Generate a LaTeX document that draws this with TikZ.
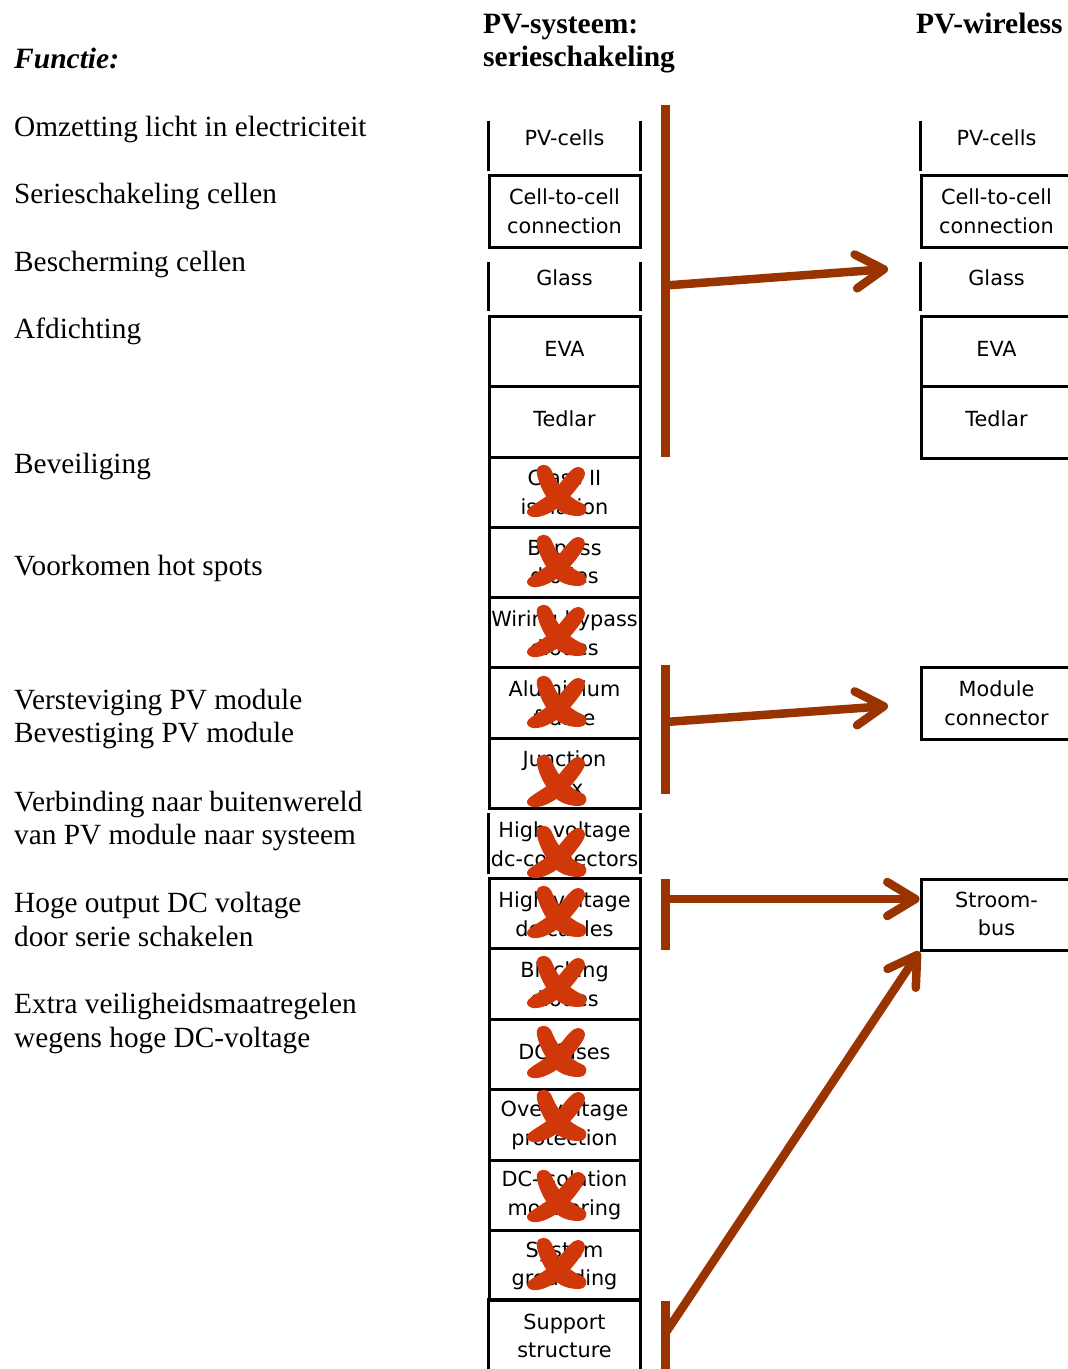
\documentclass[tikz,border=0pt]{standalone}
\usepackage{fontspec}
\setmainfont{Liberation Serif}
\newfontfamily\boxfont{DejaVu Sans}
\usetikzlibrary{arrows.meta}
\definecolor{brn}{RGB}{153,51,0}
\definecolor{xred}{RGB}{208,56,10}
\tikzset{
 xmark/.pic={
  \filldraw[xred,line width=4pt,line join=round] (-17,-24) .. controls (-12,-27) and (-8,-24) .. (-6,-18)
     .. controls (-1,-6) and (8,6) .. (26,14)
     .. controls (29,17) and (27,22) .. (22,22)
     .. controls (12,22) and (4,19) .. (-2,13)
     .. controls (-10,4) and (-16,-8) .. (-18,-18)
     .. controls (-19,-21) and (-18,-23) .. (-17,-24) -- cycle;
  \filldraw[xred,line width=4pt,line join=round] (-27,18) .. controls (-22,13) and (-10,8) .. (0,-2)
     .. controls (7,-10) and (13,-19) .. (18,-22)
     .. controls (24,-25) and (28,-20) .. (25,-15)
     .. controls (20,-6) and (10,6) .. (0,14)
     .. controls (-8,20) and (-18,24) .. (-24,23)
     .. controls (-28,22) and (-29,20) .. (-27,18) -- cycle;
 }
}
\begin{document}
\begin{tikzpicture}[x=1pt,y=-1pt,
 lbl/.style={anchor=base west,inner sep=0pt,font=\fontsize{29.3}{33}\selectfont},
 hdr/.style={anchor=base west,inner sep=0pt,font=\fontsize{29.5}{33}\selectfont\bfseries},
 comp/.style={draw,line width=3pt,minimum width=151pt,inner sep=0pt},
 openbox/.style={draw=none,minimum width=151pt,inner sep=0pt},
 side/.style={line width=3pt},
 ctext/.style={inner sep=0pt,align=center,font=\boxfont\fontsize{20.8}{28.5}\selectfont},
 bar/.style={brn,line width=9pt},
 arr/.style={brn,line width=8.5pt,-{Straight Barb[length=28pt,width=34pt,round]}}
]
\useasboundingbox (0,0) rectangle (1068,1369);

% headers
\node[hdr] (h1a) at (483,33) {PV-systeem:};
\node[hdr] (h1b) at (483,66) {serieschakeling};
\node[hdr] (h2) at (916,33) {PV-wireless};
\node[hdr,font=\fontsize{29.5}{33}\selectfont\bfseries\itshape] (fn) at (14,68) {Functie:};

% left labels
\node[lbl] (l1) at (14,136) {Omzetting licht in electriciteit};
\node[lbl] (l2) at (14,203.5) {Serieschakeling cellen};
\node[lbl] (l3) at (14,271) {Bescherming cellen};
\node[lbl] (l4) at (14,338) {Afdichting};
\node[lbl] (l5) at (14,473) {Beveiliging};
\node[lbl] (l6) at (14,575) {Voorkomen hot spots};
\node[lbl] (l7a) at (14,709) {Versteviging PV module};
\node[lbl] (l7b) at (14,742) {Bevestiging PV module};
\node[lbl] (l8a) at (14,811) {Verbinding naar buitenwereld};
\node[lbl] (l8b) at (14,844) {van PV module naar systeem};
\node[lbl] (l9a) at (14,912) {Hoge output DC voltage};
\node[lbl] (l9b) at (14,946) {door serie schakelen};
\node[lbl] (l10a) at (14,1013) {Extra veiligheidsmaatregelen};
\node[lbl] (l10b) at (14,1047) {wegens hoge DC-voltage};

% left column boxes
\node[openbox,minimum height=50pt] (pv) at (564.5,146) {};
\draw[side] (pv.north west) -- (pv.south west) (pv.north east) -- (pv.south east);
\node[comp,minimum height=72pt] (cc) at (564.5,211) {};
\node[openbox,minimum height=49pt] (gl) at (564.5,286.5) {};
\draw[side] (gl.north west) -- (gl.south west) (gl.north east) -- (gl.south east);
\node[comp,minimum height=70pt] (eva) at (564.5,351) {};
\node[comp,minimum height=71pt] (ted) at (564.5,421.5) {};
\node[comp,minimum height=70pt] (cls) at (564.5,492) {};
\node[comp,minimum height=70pt] (byp) at (564.5,562) {};
\node[comp,minimum height=70pt] (wir) at (564.5,632) {};
\node[comp,minimum height=71pt] (alu) at (564.5,702.5) {};
\node[comp,minimum height=70pt] (jb) at (564.5,773) {};
\node[openbox,minimum height=61pt] (hvc) at (564.5,843.5) {};
\draw[side] (hvc.north west) -- (hvc.south west) (hvc.north east) -- (hvc.south east);
\node[comp,minimum height=70pt] (hvk) at (564.5,913) {};
\node[comp,minimum height=71pt] (bd) at (564.5,983.5) {};
\node[comp,minimum height=70pt] (fu) at (564.5,1054) {};
\node[comp,minimum height=71pt] (ov) at (564.5,1124.5) {};
\node[comp,minimum height=70pt] (iso) at (564.5,1195) {};
\node[comp,minimum height=70pt] (gr) at (564.5,1265) {};
\node[openbox,minimum height=80pt] (sup) at (564.5,1340) {};
\draw[side] (sup.south west) -- (sup.north west) -- (sup.north east) -- (sup.south east);

% left column texts
\node[ctext] (t-pv) at (564.5,138) {PV-cells};
\node[ctext] (t-cc) at (564.5,211) {Cell-to-cell\\connection};
\node[ctext] (t-gl) at (564.5,278) {Glass};
\node[ctext] (t-eva) at (564.5,349) {EVA};
\node[ctext] (t-ted) at (564.5,419) {Tedlar};
\node[ctext] (t-cls) at (564.5,492) {Class II\\isolation};
\node[ctext] (t-byp) at (564.5,562) {Bypass\\diodes};
\node[ctext] (t-wir) at (564.5,633) {Wiring bypass\\diodes};
\node[ctext] (t-alu) at (564.5,703) {Aluminium\\frame};
\node[ctext] (t-jb) at (564.5,773) {Junction\\box};
\node[ctext] (t-hvc) at (564.5,844) {High voltage\\dc-connectors};
\node[ctext] (t-hvk) at (564.5,914) {High voltage\\dc cables};
\node[ctext] (t-bd) at (564.5,984) {Blocking\\diodes};
\node[ctext] (t-fu) at (564.5,1052) {DC fuses};
\node[ctext] (t-ov) at (564.5,1125) {Overvoltage\\protection};
\node[ctext] (t-iso) at (564.5,1195) {DC-isolation\\monitoring};
\node[ctext] (t-gr) at (564.5,1266) {System\\grounding};
\node[ctext] (t-sup) at (564.5,1336) {Support\\structure};

% crosses
\foreach \yy in {492,562,632,703,782,853,913,983,1053,1117,1197,1265}
  \pic at (557,\yy) {xmark};

% right column boxes
\node[openbox,minimum height=50pt] (rpv) at (996.5,146) {};
\draw[side] (rpv.north west) -- (rpv.south west) (rpv.north east) -- (rpv.south east);
\node[comp,minimum height=72pt] (rcc) at (996.5,211) {};
\node[openbox,minimum height=49pt] (rgl) at (996.5,286.5) {};
\draw[side] (rgl.north west) -- (rgl.south west) (rgl.north east) -- (rgl.south east);
\node[comp,minimum height=70pt] (reva) at (996.5,351) {};
\node[comp,minimum height=72pt] (rted) at (996.5,422) {};
\node[comp,minimum height=72pt] (mod) at (996.5,703) {};
\node[comp,minimum height=71pt] (sb) at (996.5,914.5) {};

\node[ctext] (rt-pv) at (996.5,138) {PV-cells};
\node[ctext] (rt-cc) at (996.5,211) {Cell-to-cell\\connection};
\node[ctext] (rt-gl) at (996.5,278) {Glass};
\node[ctext] (rt-eva) at (996.5,349) {EVA};
\node[ctext] (rt-ted) at (996.5,419) {Tedlar};
\node[ctext] (rt-mod) at (996.5,703) {Module\\connector};
\node[ctext] (rt-sb) at (996.5,914) {Stroom-\\bus};

% brown bars
\coordinate (b1t) at (665.5,105);
\coordinate (b1b) at (665.5,457);
\coordinate (b2t) at (665.5,665);
\coordinate (b2b) at (665.5,794);
\coordinate (b3t) at (665.5,879);
\coordinate (b3b) at (665.5,950);
\coordinate (b4t) at (665.5,1301);
\coordinate (b4b) at (665.5,1372);
\draw[bar] (b1t) -- (b1b);
\draw[bar] (b2t) -- (b2b);
\draw[bar] (b3t) -- (b3b);
\draw[bar] (b4t) -- (b4b);

% arrows
\coordinate (a1s) at (665.5,285.5);
\coordinate (a1e) at (888,269);
\coordinate (a2s) at (665.5,722);
\coordinate (a2e) at (888,706);
\coordinate (a3s) at (665.5,899);
\coordinate (a4s) at (665.5,1333);
\draw[arr] (a1s) -- (a1e);
\draw[arr] (a2s) -- (a2e);
\draw[arr] (a3s) -- (sb.west |- a3s);
\draw[arr] (a4s) -- (sb.south west);
\end{tikzpicture}
\end{document}
